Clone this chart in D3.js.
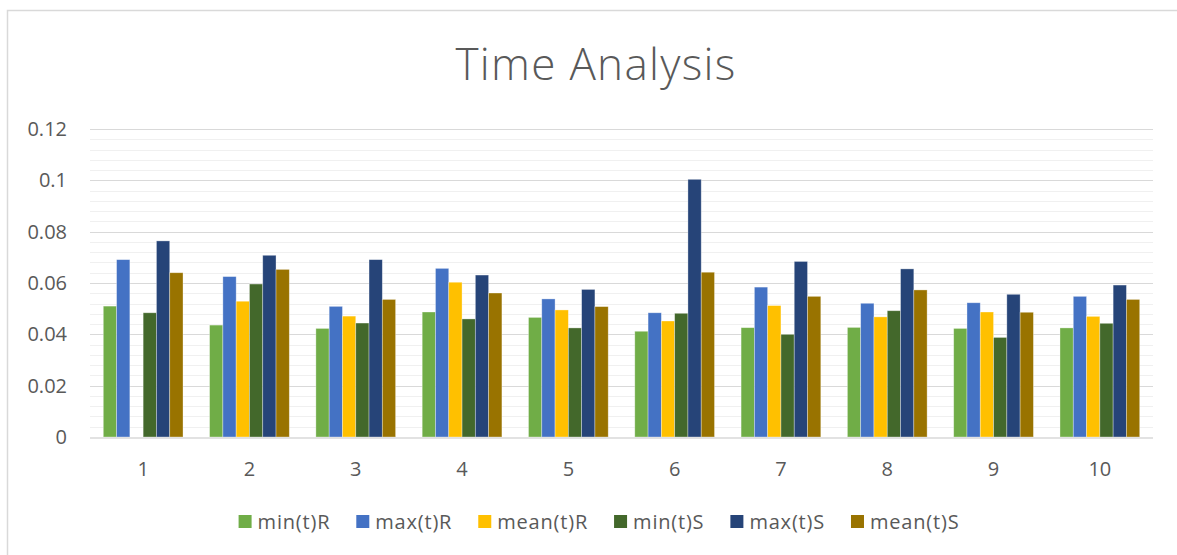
<!DOCTYPE html>
<html>
<head>
<meta charset="utf-8">
<title>Time Analysis</title>
<script src="https://d3js.org/d3.v7.min.js"></script>
<style>
  body { margin: 0; background: #fff; }
  text { font-family: "Open Sans", "Liberation Sans", sans-serif; fill: #595959; }
</style>
</head>
<body>
<script>

// data
var categories = ["1", "2", "3", "4", "5", "6", "7", "8", "9", "10"];
var seriesNames = ["min(t)R", "max(t)R", "mean(t)R", "min(t)S", "max(t)S", "mean(t)S"];
var seriesColors = ["#70AD47", "#4472C4", "#FFC000", "#43682B", "#264478", "#997300"];

var minR  = [0.0510, 0.0436, 0.0423, 0.0487, 0.0466, 0.0412, 0.0426, 0.0427, 0.0423, 0.0425];
var maxR  = [0.0691, 0.0625, 0.0509, 0.0657, 0.0538, 0.0484, 0.0584, 0.0521, 0.0523, 0.0548];
var meanR = [0,      0.0529, 0.0471, 0.0603, 0.0495, 0.0452, 0.0512, 0.0468, 0.0487, 0.0470];
var minS  = [0.0484, 0.0596, 0.0444, 0.0460, 0.0425, 0.0482, 0.0400, 0.0492, 0.0388, 0.0443];
var maxS  = [0.0764, 0.0708, 0.0691, 0.0631, 0.0575, 0.1004, 0.0684, 0.0655, 0.0556, 0.0592];
var meanS = [0.0640, 0.0653, 0.0536, 0.0561, 0.0508, 0.0642, 0.0548, 0.0573, 0.0486, 0.0536];

var yTicks = [0, 0.02, 0.04, 0.06, 0.08, 0.1, 0.12];

var seriesValues = [minR, maxR, meanR, minS, maxS, meanS];

var width = 1177,
    height = 555,
    plotLeft = 90, plotRight = 1153, plotTop = 129, plotBottom = 437;

var svg = d3.select("body").append("svg")
    .attr("width", width)
    .attr("height", height);

// chart frame (only left and top edges show in the crop)
svg.append("path")
    .attr("d", "M7.5," + height + "V10.5H" + width)
    .attr("fill", "none")
    .attr("stroke", "#D9D9D9")
    .attr("stroke-width", 1.5);

var x0 = d3.scaleBand()
    .domain(categories)
    .range([plotLeft, plotRight])
    .paddingInner(0.25)
    .paddingOuter(0.125);

var x1 = d3.scaleBand()
    .domain(seriesNames)
    .range([0, x0.bandwidth()]);

var y = d3.scaleLinear()
    .domain([0, 0.12])
    .range([plotBottom, plotTop]);

// minor gridlines
svg.append("g")
  .selectAll("line")
  .data(d3.range(0, 0.1201, 0.004).filter(function(v) { return Math.round(v * 1000) % 20 !== 0; }))
  .enter().append("line")
    .attr("x1", plotLeft).attr("x2", plotRight)
    .attr("y1", function(d) { return Math.round(y(d)) + 0.5; })
    .attr("y2", function(d) { return Math.round(y(d)) + 0.5; })
    .attr("stroke", "#F0F0F0")
    .attr("stroke-width", 1.2);

// major gridlines
svg.append("g")
  .selectAll("line")
  .data(yTicks.slice(1))
  .enter().append("line")
    .attr("x1", plotLeft).attr("x2", plotRight)
    .attr("y1", function(d) { return Math.round(y(d)) + 0.5; })
    .attr("y2", function(d) { return Math.round(y(d)) + 0.5; })
    .attr("stroke", "#D9D9D9")
    .attr("stroke-width", 1.2);

// bars
var groups = svg.append("g")
  .selectAll("g")
  .data(categories)
  .enter().append("g")
    .attr("transform", function(d) { return "translate(" + x0(d) + ",0)"; });

groups.selectAll("rect")
    .data(function(d, i) {
      return seriesNames.map(function(s, j) { return { key: s, value: seriesValues[j][i], color: seriesColors[j] }; });
    })
  .enter().append("rect")
    .attr("x", function(d) { return x1(d.key); })
    .attr("width", x1.bandwidth())
    .attr("y", function(d) { return y(d.value); })
    .attr("height", function(d) { return y(0) - y(d.value); })
    .attr("fill", function(d) { return d.color; })
    .attr("stroke", "#fff")
    .attr("stroke-opacity", function(d) { return d.value ? 0.45 : 0; })
    .attr("stroke-width", 0.75);

// x axis line
svg.append("line")
    .attr("x1", plotLeft).attr("x2", plotRight)
    .attr("y1", plotBottom + 1).attr("y2", plotBottom + 1)
    .attr("stroke", "#D9D9D9")
    .attr("stroke-width", 1.5);

// y labels
svg.append("g")
  .selectAll("text")
  .data(yTicks)
  .enter().append("text")
    .attr("x", 67)
    .attr("y", function(d) { return y(d); })
    .attr("dy", "0.35em")
    .attr("text-anchor", "end")
    .style("font-size", "20px")
    .text(function(d) { return d3.format("")(d); });

// x labels
svg.append("g")
  .selectAll("text")
  .data(categories)
  .enter().append("text")
    .attr("x", function(d) { return x0(d) + x0.bandwidth() / 2; })
    .attr("y", 476)
    .attr("text-anchor", "middle")
    .style("font-size", "20px")
    .text(function(d) { return d; });

// title
svg.append("text")
    .attr("x", 596)
    .attr("y", 80)
    .attr("text-anchor", "middle")
    .style("font-size", "44px")
    .style("font-weight", 300)
    .style("letter-spacing", "1.3px")
    .text("Time Analysis");

// legend
var legend = svg.append("g");
var items = legend.selectAll("g")
    .data(seriesNames)
  .enter().append("g");

items.append("rect")
    .attr("width", 13).attr("height", 13)
    .attr("y", 515)
    .attr("fill", function(d, i) { return seriesColors[i]; });

items.append("text")
    .attr("x", 19)
    .attr("y", 528.5)
    .style("font-size", "20px")
    .style("letter-spacing", "0.8px")
    .text(function(d) { return d; });

var pos = 0, offsets = [];
items.each(function() {
  offsets.push(pos);
  pos += 19 + d3.select(this).select("text").node().getComputedTextLength() + 26;
});
var total = pos - 26, start = 599 - total / 2;
items.attr("transform", function(d, i) { return "translate(" + (start + offsets[i]) + ",0)"; });

</script>
</body>
</html>
